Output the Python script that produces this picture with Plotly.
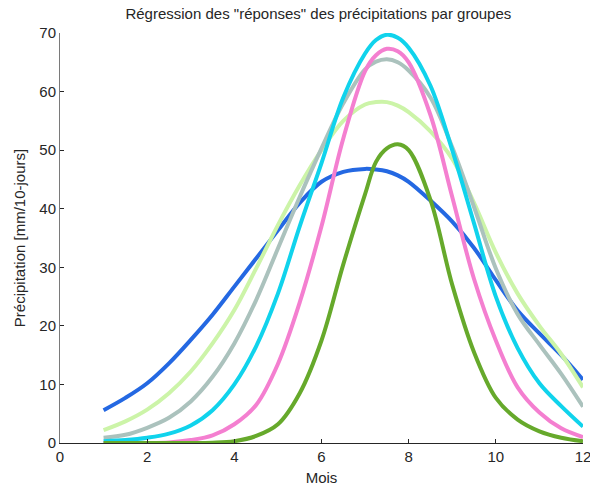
import plotly.graph_objects as go

# Month axis (half-month steps, quarter steps around the summer peak)
mois = [1, 1.5, 2, 2.5, 3, 3.5, 4, 4.5, 5, 5.5, 6, 6.5, 7, 7.25, 7.5, 7.75, 8, 8.5, 9, 9.5, 10, 10.5, 11, 11.5, 12]

# Fitted precipitation responses per group [mm/10-jours]
groupe_bleu = [5.6, 7.7, 10.2, 13.6, 17.6, 21.9, 26.7, 31.5, 36.3, 41.0, 44.6, 46.3, 46.8, 46.7, 46.4, 45.7, 44.6, 41.4, 37.8, 33.3, 27.8, 22.6, 18.7, 15.0, 10.8]
groupe_vert_clair = [2.2, 3.7, 5.7, 8.5, 12.2, 17.0, 22.7, 29.8, 37.2, 44.0, 50.0, 55.0, 57.8, 58.2, 58.2, 57.6, 56.5, 53.2, 48.5, 41.0, 32.5, 25.5, 20.0, 15.2, 9.5]
groupe_gris = [0.9, 1.4, 2.6, 4.3, 7.1, 11.3, 17.0, 24.4, 33.2, 42.0, 50.3, 58.0, 63.8, 65.1, 65.5, 65.0, 63.6, 59.0, 50.5, 40.3, 29.8, 22.0, 16.8, 11.8, 6.2]
groupe_cyan = [0.3, 0.5, 0.9, 1.6, 3.0, 5.6, 10.0, 16.5, 25.5, 37.0, 47.8, 59.0, 66.5, 68.8, 69.7, 69.2, 67.5, 61.0, 50.0, 37.5, 25.0, 16.2, 10.2, 6.3, 2.8]
groupe_rose = [0.0, 0.0, 0.0, 0.1, 0.5, 1.3, 3.2, 6.5, 13.5, 24.0, 37.0, 52.0, 63.5, 66.2, 67.3, 66.9, 65.0, 56.0, 42.0, 28.0, 17.5, 9.5, 5.2, 2.5, 1.0]
groupe_vert_fonce = [0.0, 0.0, 0.0, 0.0, 0.0, 0.05, 0.3, 1.2, 3.2, 8.5, 17.5, 30.5, 42.5, 48.0, 50.3, 51.0, 50.0, 41.5, 27.0, 15.5, 7.7, 4.0, 2.0, 0.9, 0.3]

series = [
    ("bleu", groupe_bleu, "#2468e2"),
    ("vert clair", groupe_vert_clair, "#ccf4a8"),
    ("gris", groupe_gris, "#abc2bd"),
    ("cyan", groupe_cyan, "#10d3ec"),
    ("rose", groupe_rose, "#f47fd0"),
    ("vert foncé", groupe_vert_fonce, "#66a92b"),
]

fig = go.Figure()
for nom, valeurs, couleur in series:
    fig.add_trace(go.Scatter(
        x=mois, y=valeurs, mode="lines", name=nom,
        line=dict(color=couleur, width=4, shape="spline", smoothing=1.0),
    ))

police = "Liberation Sans, Arial, sans-serif"
taille = 15

fig.update_layout(
    width=590, height=488,
    margin=dict(l=60, r=7, t=33, b=45),
    paper_bgcolor="white", plot_bgcolor="white",
    showlegend=False,
    font=dict(family=police, size=taille, color="#262626"),
    title=dict(
        text='Régression des "réponses" des précipitations par groupes',
        xref="paper", x=0.494, xanchor="center", y=1 - 14 / 488, yanchor="middle",
        font=dict(family=police, size=taille, color="#262626"),
    ),
)

fig.update_xaxes(
    range=[0, 12], tickvals=[0, 2, 4, 6, 8, 10, 12],
    showgrid=False, zeroline=False, automargin=False,
    showline=True, linecolor="#262626", linewidth=1,
    ticks="inside", ticklen=4, tickcolor="#262626",
    ticklabeloverflow="allow", tickfont=dict(size=taille),
    title=dict(text="Mois", standoff=8, font=dict(size=taille)),
)
fig.update_yaxes(
    range=[0, 70], tickvals=[0, 10, 20, 30, 40, 50, 60, 70],
    showgrid=False, zeroline=False, automargin=False,
    showline=True, linecolor="#7a7a7a", linewidth=1,
    ticks="inside", ticklen=4, tickcolor="#262626",
    tickfont=dict(size=taille),
    title=dict(text="Précipitation [mm/10-jours]", standoff=10, font=dict(size=taille)),
)

fig.write_html("out.html")
